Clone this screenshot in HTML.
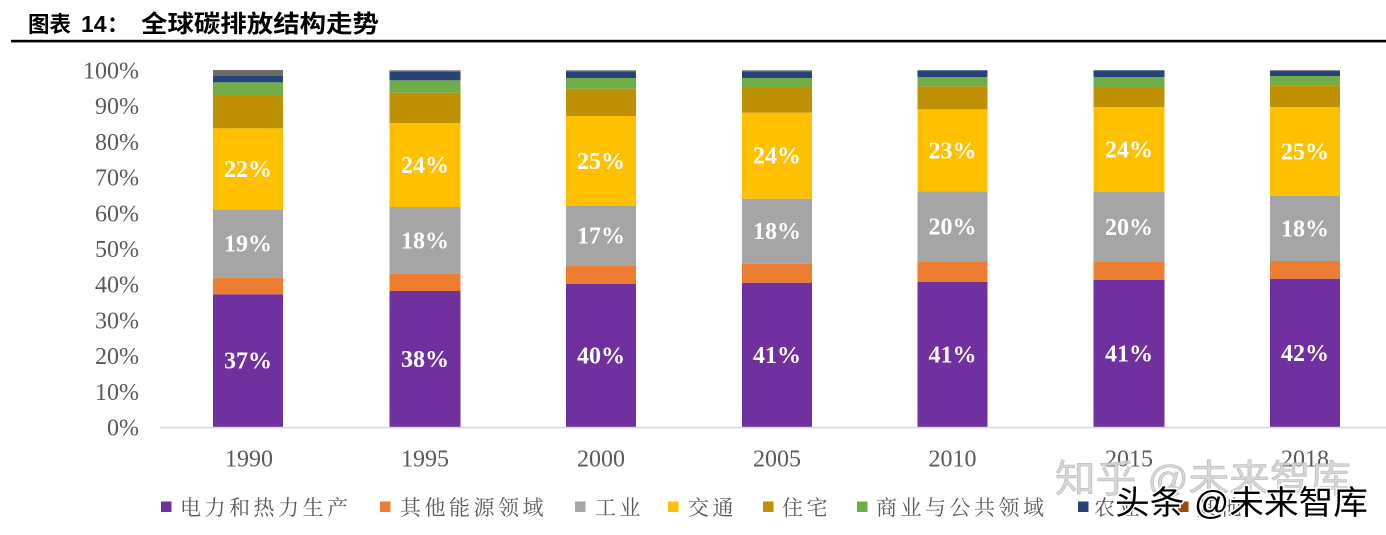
<!DOCTYPE html>
<html><head><meta charset="utf-8">
<style>
html,body{margin:0;padding:0;background:#fff;}
svg{display:block;}
</style></head>
<body>
<svg width="1386" height="535" viewBox="0 0 1386 535" xmlns="http://www.w3.org/2000/svg">
<rect width="1386" height="535" fill="#fff"/>
<!-- title -->
<g font-family="'Liberation Sans','Noto Sans CJK SC',sans-serif" font-weight="bold" font-size="22" fill="#000">
<text x="28" y="32" textLength="43" lengthAdjust="spacingAndGlyphs">图表</text>
<text x="81" y="32" font-size="23">14</text>
<text x="107" y="32">：</text>
<text x="141" y="32" font-size="24" textLength="238" lengthAdjust="spacingAndGlyphs">全球碳排放结构走势</text>
</g>
<rect x="11" y="39.8" width="1375" height="2.6" fill="#000"/>

<!-- y axis labels -->
<g font-family="'Liberation Serif',serif" font-size="24" fill="#595959" text-anchor="end">
<text x="139" y="78.5">100%</text>
<text x="139" y="114.2">90%</text>
<text x="139" y="149.9">80%</text>
<text x="139" y="185.6">70%</text>
<text x="139" y="221.3">60%</text>
<text x="139" y="257">50%</text>
<text x="139" y="292.7">40%</text>
<text x="139" y="328.4">30%</text>
<text x="139" y="364.1">20%</text>
<text x="139" y="399.8">10%</text>
<text x="139" y="435.5">0%</text>
</g>

<!-- bars -->
<g>
<!-- 1990 -->
<rect x="213" y="294.3" width="70" height="133" fill="#7030A0"/>
<rect x="213" y="277.7" width="70" height="16.6" fill="#ED7D31"/>
<rect x="213" y="209.3" width="70" height="68.4" fill="#A5A5A5"/>
<rect x="213" y="128.3" width="70" height="81" fill="#FFC000"/>
<rect x="213" y="96" width="70" height="32.3" fill="#BF9000"/>
<rect x="213" y="82.3" width="70" height="13.7" fill="#70AD47"/>
<rect x="213" y="76" width="70" height="6.3" fill="#264478"/>
<rect x="213" y="70" width="70" height="6" fill="#706B6B"/>
<!-- 1995 -->
<rect x="389.5" y="291" width="71" height="136.3" fill="#7030A0"/>
<rect x="389.5" y="273.7" width="71" height="17.3" fill="#ED7D31"/>
<rect x="389.5" y="207" width="71" height="66.7" fill="#A5A5A5"/>
<rect x="389.5" y="123" width="71" height="84" fill="#FFC000"/>
<rect x="389.5" y="92.7" width="71" height="30.3" fill="#BF9000"/>
<rect x="389.5" y="80.3" width="71" height="12.4" fill="#70AD47"/>
<rect x="389.5" y="72" width="71" height="8.3" fill="#264478"/>
<rect x="389.5" y="70.3" width="71" height="1.7" fill="#7A6560"/>
<!-- 2000 -->
<rect x="566" y="283.7" width="70" height="143.6" fill="#7030A0"/>
<rect x="566" y="265.3" width="70" height="18.4" fill="#ED7D31"/>
<rect x="566" y="206" width="70" height="59.3" fill="#A5A5A5"/>
<rect x="566" y="116" width="70" height="90" fill="#FFC000"/>
<rect x="566" y="88.7" width="70" height="27.3" fill="#BF9000"/>
<rect x="566" y="78" width="70" height="10.7" fill="#70AD47"/>
<rect x="566" y="71.3" width="70" height="6.7" fill="#264478"/>
<rect x="566" y="70.3" width="70" height="1" fill="#707070"/>
<!-- 2005 -->
<rect x="742" y="282.7" width="70" height="144.6" fill="#7030A0"/>
<rect x="742" y="263.7" width="70" height="19" fill="#ED7D31"/>
<rect x="742" y="198.7" width="70" height="65" fill="#A5A5A5"/>
<rect x="742" y="112.7" width="70" height="86" fill="#FFC000"/>
<rect x="742" y="88" width="70" height="24.7" fill="#BF9000"/>
<rect x="742" y="78" width="70" height="10" fill="#70AD47"/>
<rect x="742" y="71.3" width="70" height="6.7" fill="#264478"/>
<rect x="742" y="70.3" width="70" height="1" fill="#707070"/>
<!-- 2010 -->
<rect x="917.5" y="282" width="70" height="145.3" fill="#7030A0"/>
<rect x="917.5" y="262" width="70" height="20" fill="#ED7D31"/>
<rect x="917.5" y="191.3" width="70" height="70.7" fill="#A5A5A5"/>
<rect x="917.5" y="109.3" width="70" height="82" fill="#FFC000"/>
<rect x="917.5" y="86.3" width="70" height="23" fill="#BF9000"/>
<rect x="917.5" y="77" width="70" height="9.3" fill="#70AD47"/>
<rect x="917.5" y="70.3" width="70" height="6.7" fill="#264478"/>
<!-- 2015 -->
<rect x="1093.5" y="279.7" width="71" height="147.6" fill="#7030A0"/>
<rect x="1093.5" y="262" width="71" height="17.7" fill="#ED7D31"/>
<rect x="1093.5" y="192" width="71" height="70" fill="#A5A5A5"/>
<rect x="1093.5" y="107" width="71" height="85" fill="#FFC000"/>
<rect x="1093.5" y="87" width="71" height="20" fill="#BF9000"/>
<rect x="1093.5" y="77" width="71" height="10" fill="#70AD47"/>
<rect x="1093.5" y="70.3" width="71" height="6.7" fill="#264478"/>
<!-- 2018 -->
<rect x="1270" y="278.7" width="70" height="148.6" fill="#7030A0"/>
<rect x="1270" y="261" width="70" height="17.7" fill="#ED7D31"/>
<rect x="1270" y="196" width="70" height="65" fill="#A5A5A5"/>
<rect x="1270" y="107" width="70" height="89" fill="#FFC000"/>
<rect x="1270" y="85.3" width="70" height="21.7" fill="#BF9000"/>
<rect x="1270" y="76" width="70" height="9.3" fill="#70AD47"/>
<rect x="1270" y="71.5" width="70" height="4.5" fill="#264478"/>
<rect x="1270" y="70.3" width="70" height="1.2" fill="#5A4A50"/>
</g>

<!-- axis line -->
<rect x="160" y="426.8" width="1226" height="1.6" fill="#D9D9D9"/>

<!-- data labels -->
<g font-family="'Liberation Serif',serif" font-weight="bold" font-size="24" fill="#fff" text-anchor="middle">
<text x="248" y="368.7">37%</text>
<text x="248" y="251.5">19%</text>
<text x="248" y="176.8">22%</text>
<text x="425" y="367">38%</text>
<text x="425" y="248.3">18%</text>
<text x="425" y="173">24%</text>
<text x="601" y="363.3">40%</text>
<text x="601" y="243.7">17%</text>
<text x="601" y="169">25%</text>
<text x="777" y="363">41%</text>
<text x="777" y="239.2">18%</text>
<text x="777" y="163.7">24%</text>
<text x="952.5" y="362.6">41%</text>
<text x="952.5" y="234.7">20%</text>
<text x="952.5" y="158.3">23%</text>
<text x="1129" y="361.5">41%</text>
<text x="1129" y="235">20%</text>
<text x="1129" y="157.5">24%</text>
<text x="1305" y="361">42%</text>
<text x="1305" y="236.5">18%</text>
<text x="1305" y="159.5">25%</text>
</g>

<!-- category labels -->
<g font-family="'Liberation Serif',serif" font-size="24" fill="#595959" text-anchor="middle">
<text x="249" y="466.5">1990</text>
<text x="425" y="466.5">1995</text>
<text x="601" y="466.5">2000</text>
<text x="777" y="466.5">2005</text>
<text x="952.5" y="466.5">2010</text>
<text x="1129" y="466.5">2015</text>
<text x="1305" y="466.5">2018</text>
</g>

<!-- legend -->
<g font-family="'Liberation Serif','Noto Serif CJK SC',serif" font-size="21" fill="#595959" letter-spacing="3.5">
<rect x="161" y="501.5" width="10.5" height="10.5" fill="#7030A0"/>
<text x="180" y="515">电力和热力生产</text>
<rect x="380" y="501.5" width="10.5" height="10.5" fill="#ED7D31"/>
<text x="400" y="515">其他能源领域</text>
<rect x="575" y="501.5" width="10.5" height="10.5" fill="#A5A5A5"/>
<text x="595" y="515">工业</text>
<rect x="668" y="501.5" width="10.5" height="10.5" fill="#FFC000"/>
<text x="688" y="515">交通</text>
<rect x="763" y="501.5" width="10.5" height="10.5" fill="#BF9000"/>
<text x="782" y="515">住宅</text>
<rect x="857" y="501.5" width="10.5" height="10.5" fill="#70AD47"/>
<text x="876" y="515">商业与公共领域</text>
<rect x="1078" y="501.5" width="10.5" height="10.5" fill="#264478"/>
<text x="1094" y="515">农业</text>
<rect x="1178" y="501.5" width="10.5" height="10.5" fill="#9E480E"/>
<text x="1196" y="515">其他</text>
</g>

<!-- watermarks -->
<g font-family="'Liberation Sans','Noto Sans CJK SC',sans-serif">
<text x="1055" y="492" font-size="38" fill="#d0d0d0" fill-opacity="0.85" stroke="#b8b8b8" stroke-width="0.6" textLength="296" lengthAdjust="spacingAndGlyphs">知乎 @未来智库</text>
<text x="1115" y="514" font-size="33" fill="#000" stroke="#fff" stroke-width="3" paint-order="stroke" textLength="253" lengthAdjust="spacingAndGlyphs">头条 @未来智库</text>
</g>
</svg>
</body></html>
